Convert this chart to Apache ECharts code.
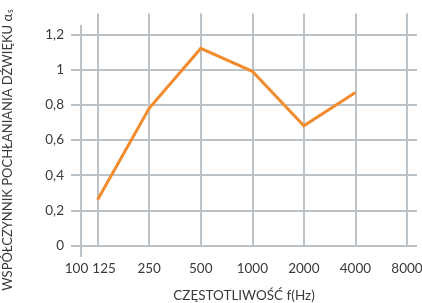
<!DOCTYPE html>
<html>
<head>
<meta charset="utf-8">
<script src="https://cdn.jsdelivr.net/npm/echarts@6/dist/echarts.min.js"></script>
<style>
  html, body { margin: 0; padding: 0; background: #ffffff; }
  #main { width: 422px; height: 303px; }
</style>
</head>
<body>
<div id="main"></div>
<script>
  // częstotliwości (Hz) i współczynnik pochłaniania
  const freqs = [125, 250, 500, 1000, 2000, 4000];
  const absorption = [0.26, 0.78, 1.12, 0.99, 0.68, 0.87];
  const xTicks = [100, 125, 250, 500, 1000, 2000, 4000, 8000];
  const yTicks = [0, 0.2, 0.4, 0.6, 0.8, 1, 1.2];

  const gridColor = '#bcc3c8';
  const textColor = '#3a3a3a';
  const font = 'Lato';
  const fs = 13.5;

  // os X w skali log2
  const xPad = 0.194;
  const yPadTop = 0.053;
  const yPadBottom = 0.065;
  const xMin = Math.log2(xTicks[0]) - xPad;
  const xMax = Math.log2(xTicks[xTicks.length - 1]) + xPad;
  const gridTop = 25, gridBottom = 46;

  const myChart = echarts.init(document.getElementById('main'));

  // pionowe linie siatki rysowane jako długie ticki (customValues)
  function xAxisOf(ticks, withName) {
    const vals = ticks.map(v => Math.log2(v));
    return {
      type: 'value',
      position: 'bottom',
      min: xMin,
      max: xMax,
      name: withName ? 'CZĘSTOTLIWOŚĆ f(Hz)' : '',
      nameLocation: 'middle',
      nameGap: 32,
      nameTextStyle: { color: textColor, fontSize: fs, fontFamily: font },
      axisLine: { show: false },
      axisTick: {
        show: true, inside: true, length: 303 - gridTop - gridBottom,
        customValues: vals,
        lineStyle: { color: gridColor, width: 2 }
      },
      axisLabel: {
        customValues: vals,
        hideOverlap: false,
        showMinLabel: true,
        showMaxLabel: true,
        color: textColor, fontSize: fs, fontFamily: font, margin: 5,
        formatter: v => {
          const f = Math.round(Math.pow(2, v));
          if (f === 100) return '{l|' + f + '}';
          if (f === 125) return '{r|' + f + '}';
          return String(f);
        },
        rich: {
          l: { color: textColor, fontSize: fs, fontFamily: font, padding: [0, 9, 0, 0] },
          r: { color: textColor, fontSize: fs, fontFamily: font, padding: [0, 0, 0, 13] }
        }
      },
      splitLine: { show: false }
    };
  }

  const option = {
    backgroundColor: '#ffffff',
    animation: false,
    grid: { left: 71, right: 5, top: gridTop, bottom: gridBottom, outerBoundsMode: 'none', containLabel: false },
    xAxis: [xAxisOf(xTicks.slice(1), true), xAxisOf(xTicks.slice(0, 1), false)],
    yAxis: {
      type: 'value',
      min: yTicks[0] - yPadBottom,
      max: yTicks[yTicks.length - 1] + yPadTop,
      name: 'WSPÓŁCZYNNIK POCHŁANIANIA DŹWIĘKU {a|α}{s|s}',
      nameLocation: 'middle',
      nameGap: 56,
      nameRotate: 90,
      nameTextStyle: {
        color: textColor, fontSize: 13, fontFamily: font, padding: [0, 18, 0, 0],
        rich: {
          a: { color: textColor, fontSize: 13, fontFamily: font },
          s: { color: textColor, fontSize: 8.5, fontFamily: font, verticalAlign: 'bottom', padding: [6, 0, 0, 1] }
        }
      },
      axisLine: { show: false },
      axisTick: { show: false, customValues: yTicks },
      axisLabel: {
        customValues: yTicks,
        hideOverlap: false,
        showMinLabel: true,
        showMaxLabel: true,
        color: textColor, fontSize: fs, fontFamily: font, margin: 7,
        formatter: v => String(Math.round(v * 10) / 10).replace('.', ',')
      },
      splitLine: { show: true, lineStyle: { color: gridColor, width: 2 } }
    },
    series: [
      {
        type: 'line',
        xAxisIndex: 0,
        data: freqs.map((f, i) => [Math.log2(f), absorption[i]]),
        symbol: 'none',
        lineStyle: { color: '#f28a2e', width: 3, join: 'miter' }
      }
    ]
  };

  myChart.setOption(option);
</script>
</body>
</html>
